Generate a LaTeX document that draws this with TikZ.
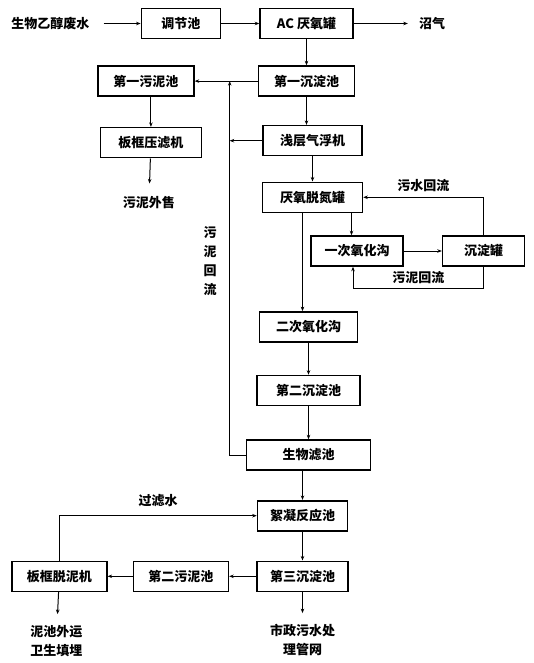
\documentclass[tikz,border=0pt]{standalone}
\usepackage{fontspec}
\newfontfamily\hei{Noto Sans CJK SC}
\usetikzlibrary{arrows.meta, positioning, calc}

\begin{document}
\begin{tikzpicture}[
    x=1pt, y=-1pt,
    font=\hei\bfseries\fontsize{13}{16}\selectfont,
    >={Stealth[length=4.5pt, width=3.5pt]},
    % process boxes
    box/.style={rectangle, draw, line width=1.6pt, minimum height=30pt, inner sep=0pt, align=center},
    % free texts (inputs, outputs, edge labels)
    plain_text/.style={inner sep=1pt, align=center},
    % connectors
    arrow/.style={->, line width=1pt},
    thin_arrow/.style={->, line width=0.5pt}
]
\useasboundingbox (0,0) rectangle (533,663);

% --- TOP ROW ---
\node[box, minimum width=93pt] (ac) at (306.5,23.5) {AC 厌氧罐};
\node[box, minimum width=79pt, left=38pt of ac] (tiao) {调节池};
\node[plain_text, left=50pt of tiao] (src) {生物乙醇废水};
\node[plain_text, right=64pt of ac] (gas) {沼气};

% --- FIRST SETTLING + SLUDGE ---
\node[box, minimum width=96pt, below=26pt of ac] (cd1) {第一沉淀池};
\node[box, minimum width=96pt, left=63pt of cd1] (wn1) {第一污泥池};
\node[box, minimum width=101pt, below=30pt of wn1, xshift=5pt] (ylj) {板框压滤机};
\node[plain_text, below=37pt of ylj, xshift=-2pt] (sell) {污泥外售};
\coordinate (jn) at ([xshift=-28pt]cd1.west);

% --- MAIN COLUMN ---
\node[box, minimum width=99pt, below=28pt of cd1, xshift=6pt] (qf) {浅层气浮机};
\node[box, minimum width=100pt, below=25pt of qf] (yy) {厌氧脱氮罐};
\node[box, minimum width=92pt] (yc) at (357,251) {一次氧化沟};
\node[box, minimum width=82pt, right=38pt of yc] (cdg) {沉淀罐};
\node[box, minimum width=98pt, below=98pt of yy, xshift=-4pt] (ec) {二次氧化沟};
\node[box, minimum width=103pt, below=32pt of ec] (cd2) {第二沉淀池};
\node[box, minimum width=124pt, below=33pt of cd2] (swl) {生物滤池};
\node[box, minimum width=90pt, below=29pt of swl, xshift=-6pt] (xn) {絮凝反应池};

% --- BOTTOM ROW ---
\node[box, minimum width=91pt, below=29pt of xn] (cd3) {第三沉淀池};
\node[box, minimum width=95pt, left=27pt of cd3] (wn2) {第二污泥池};
\node[box, minimum width=95pt, left=25pt of wn2] (bk) {板框脱泥机};
\node[plain_text, below=32pt of bk, xshift=-3pt] (land) {泥池外运\\[3pt]卫生填埋};
\node[plain_text, below=31pt of cd3] (city) {市政污水处\\[3pt]理管网};

\node[plain_text, font=\hei\bfseries\fontsize{13}{19}\selectfont] (slr) at (210,261) {污\\泥\\回\\流};

% --- ARROWS ---
\draw[arrow, shorten <=13pt] (src) -- (tiao);
\draw[arrow] (tiao) -- (ac);
\draw[arrow, shorten >=10pt] (ac) -- (gas);
\draw[arrow] (ac.south) -- (ac.south |- cd1.north);
\draw[arrow] (cd1) -- (wn1);
\draw[arrow] (cd1.south) -- (cd1.south |- qf.north);
\draw[arrow] (ylj.north |- wn1.south) -- (ylj.north);
\draw[arrow, shorten >=12pt] (ylj) -- (sell);
\draw[arrow] (qf) -- (yy);
\draw[arrow] ([xshift=39pt]yy.south) -- ([xshift=39pt]yy.south |- yc.north);
\draw[thin_arrow] ([xshift=-10pt]yy.south) -- ([xshift=-10pt]yy.south |- ec.north);
\draw[arrow] (yc) -- (cdg);
\draw[arrow] (cdg.north) |- node[pos=0.75, above=2pt] {污水回流} (yy.east);
\draw[arrow] (cdg.south) -- ++(0,22) -| node[pos=0.25, above=1pt] {污泥回流} ([xshift=-4pt]yc.south);
\draw[arrow] (ec.south) -- (ec.south |- cd2.north);
\draw[arrow] (cd2.south) -- (cd2.south |- swl.north);
\draw[arrow] (swl.west) -| (jn);
\draw[arrow] (qf.west) -- (qf.west -| jn);
\draw[arrow] (xn.north |- swl.south) -- (xn.north);
\draw[arrow] (xn) -- (cd3);
\draw[arrow] (cd3) -- (wn2);
\draw[arrow] (wn2) -- (bk);
\draw[arrow] (bk.north) |- node[pos=0.75, above=5pt] {过滤水} (xn.west);
\draw[arrow, shorten >=10pt] (bk) -- (land);
\draw[arrow, shorten >=10pt] (cd3) -- (city);

\end{tikzpicture}
\end{document}
